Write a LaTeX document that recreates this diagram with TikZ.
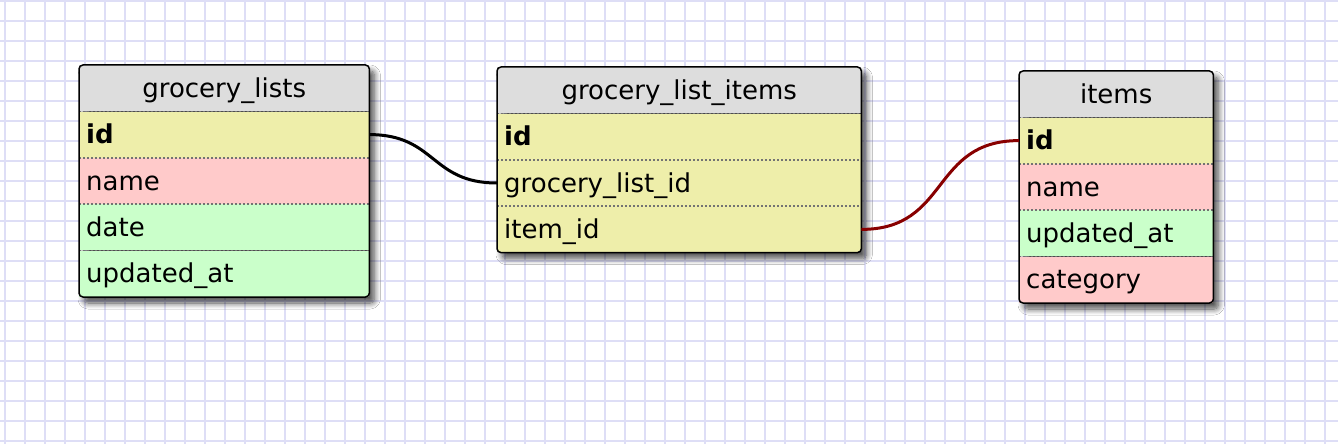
\documentclass[tikz,border=0pt]{standalone}
\usepackage{fontspec}
\setmainfont{DejaVu Sans}
\usetikzlibrary{positioning,shadows.blur}
\definecolor{gridcol}{RGB}{222,222,246}
\definecolor{headgray}{RGB}{221,221,221}
\definecolor{keyyel}{RGB}{238,238,170}
\definecolor{strpink}{RGB}{255,202,202}
\definecolor{datgreen}{RGB}{202,255,202}
\definecolor{fkred}{RGB}{136,0,0}
\pgfdeclarelayer{bg}
\pgfsetlayers{bg,main}
\tikzset{
  gridline/.style={line width=2pt, color=gridcol},
  field/.style={rectangle, inner xsep=7pt, inner ysep=0pt, minimum height=46pt,
    text height=22pt, text depth=4pt, align=left,
    font=\fontsize{26}{30}\selectfont},
  head/.style={field, fill=headgray, align=center},
  frame/.style={draw=black, line width=1.5pt, rounded corners=4pt},
  sep/.style={draw=black!55, line width=1.6pt, dash pattern=on 2pt off 2pt},
  shade box/.style={blur shadow={shadow xshift=5pt, shadow yshift=-6pt,
    shadow blur radius=6pt, shadow blur steps=10, shadow opacity=70}},
  link/.style={line width=3pt, out=0, in=180, looseness=1.25}
}
\begin{document}
\begin{tikzpicture}[x=1pt, y=-1pt]
			%%%%% GRID %%%%%
			\useasboundingbox (0,0) rectangle (1338,444);
			\begin{pgfonlayer}{bg}
			\fill[white] (0,0) rectangle (1338,444);
			\foreach \gx in {5,25,...,1325} \draw[gridline] (\gx,0) -- (\gx,444);
			\foreach \gy in {1,21,...,441} \draw[gridline] (0,\gy) -- (1338,\gy);
			\end{pgfonlayer}
			
			%%%%% grocery_lists %%%%%
			\node[head, text width=276pt, anchor=north west] (gl) at (79,65) {grocery\_lists};
			\node[field, text width=276pt, fill=keyyel, below=0pt of gl] (gl-id) {\bfseries id};
			\node[field, text width=276pt, fill=strpink, below=0pt of gl-id] (gl-name) {name};
			\node[field, text width=276pt, fill=datgreen, below=0pt of gl-name] (gl-date) {date};
			\node[field, text width=276pt, fill=datgreen, below=0pt of gl-date] (gl-upd) {updated\_at};
			
			%%%%% grocery_list_items %%%%%
			\node[head, text width=350pt, anchor=north west] (gli) at (497,67) {grocery\_list\_items};
			\node[field, text width=350pt, fill=keyyel, below=0pt of gli] (gli-id) {\bfseries id};
			\node[field, text width=350pt, fill=keyyel, below=0pt of gli-id] (gli-glid) {grocery\_list\_id};
			\node[field, text width=350pt, fill=keyyel, below=0pt of gli-glid] (gli-item) {item\_id};
			
			%%%%% items %%%%%
			\node[head, text width=180pt, anchor=north west] (it) at (1019,71) {items};
			\node[field, text width=180pt, fill=keyyel, below=0pt of it] (it-id) {\bfseries id};
			\node[field, text width=180pt, fill=strpink, below=0pt of it-id] (it-name) {name};
			\node[field, text width=180pt, fill=datgreen, below=0pt of it-name] (it-upd) {updated\_at};
			\node[field, text width=180pt, fill=strpink, below=0pt of it-upd] (it-cat) {category};
			
			%%%%% separators, frames, shadows %%%%%
			\foreach \r in {gl-id,gl-name,gl-date,gl-upd,gli-id,gli-glid,gli-item,it-id,it-name,it-upd,it-cat}
				\draw[sep] (\r.north west) -- (\r.north east);
			\foreach \t/\b in {gl/gl-upd, gli/gli-item, it/it-cat} {
				\begin{pgfonlayer}{bg}
				\path[shade box, rounded corners=4pt] (\t.north west) rectangle (\b.south east);
				\end{pgfonlayer}
				\draw[frame] (\t.north west) rectangle (\b.south east);
			}
			
			%%%%% links %%%%%
			\draw[link, black] (gl-id.east) to (gli-glid.west);
			\draw[link, fkred] (gli-item.east) to (it-id.west);
		\end{tikzpicture}
\end{document}
